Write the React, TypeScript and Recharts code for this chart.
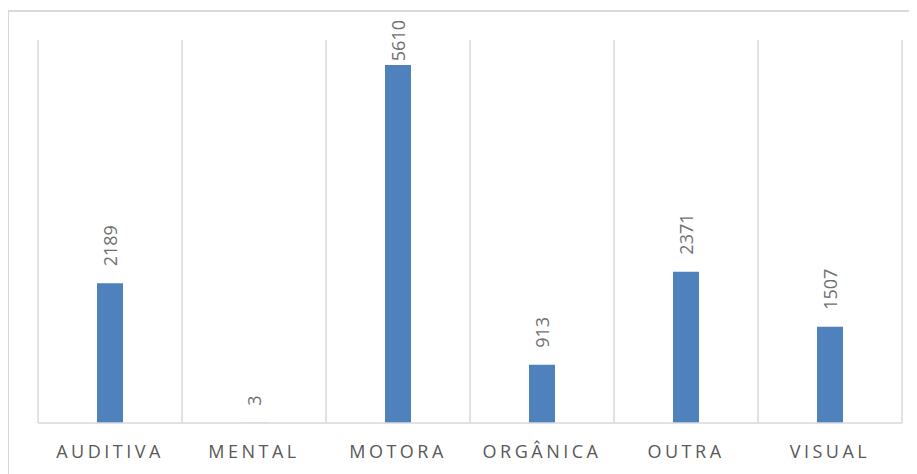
import React from 'react';
import { BarChart, Bar, XAxis, YAxis, CartesianGrid, LabelList } from 'recharts';

const categories = ['AUDITIVA', 'MENTAL', 'MOTORA', 'ORGÂNICA', 'OUTRA', 'VISUAL'];
const values = [2189, 3, 5610, 913, 2371, 1507];

const data = categories.map((name, i) => ({ name, value: values[i] }));

const FONT = '"Open Sans", "Noto Sans", sans-serif';
const LABEL_SIZE = 18;

const CategoryTick = (props: any) => {
  const { x, y, payload } = props;
  return (
    <text
      x={x}
      y={y}
      dy={27}
      textAnchor="middle"
      fill="#595959"
      fontSize={18}
      fontFamily={FONT}
      letterSpacing={3.5}
    >
      {payload.value}
    </text>
  );
};

const ValueLabel = (props: any) => {
  const { x, y, width, value } = props;
  const cx = x + width / 2;
  // keep the rotated label inside the chart area, like the original does for the tall bar
  const textLen = String(value).length * LABEL_SIZE * 0.572;
  const cy = Math.max(y - 17, 12 + textLen);
  return (
    <text
      x={cx}
      y={cy}
      transform={`rotate(-90, ${cx}, ${cy})`}
      textAnchor="start"
      dominantBaseline="central"
      fill="#707070"
      fontSize={LABEL_SIZE}
      fontFamily={FONT}
    >
      {value}
    </text>
  );
};

const App = () => {
  return (
    <div style={{ position: 'relative', width: 909, height: 466 }}>
      <div
        style={{
          position: 'absolute',
          left: -1,
          top: 2,
          right: -10,
          bottom: -20,
          borderTop: '2px solid #d9d9d9',
          borderLeft: '2px solid #d9d9d9',
        }}
      />
      <BarChart
        width={909}
        height={466}
        data={data}
        margin={{ top: 32, right: 15, bottom: 11, left: 30 }}
        style={{ position: 'absolute', left: 0, top: 0 }}
      >
        <CartesianGrid
          horizontal={false}
          stroke="#d9d9d9"
          strokeWidth={1.5}
          verticalCoordinatesGenerator={({ offset }: any) =>
            categories.map((_, i) => offset.left + (i * offset.width) / categories.length)
              .concat([offset.left + offset.width])
          }
        />
        <XAxis
          dataKey="name"
          axisLine={{ stroke: '#d9d9d9', strokeWidth: 1.5 }}
          tickLine={false}
          tick={<CategoryTick />}
          height={40}
          interval={0}
        />
        <YAxis hide domain={[0, 6000]} />
        <Bar dataKey="value" fill="#4f81bd" barSize={26} isAnimationActive={false}>
          <LabelList dataKey="value" content={<ValueLabel />} />
        </Bar>
      </BarChart>
    </div>
  );
};

export default App;
